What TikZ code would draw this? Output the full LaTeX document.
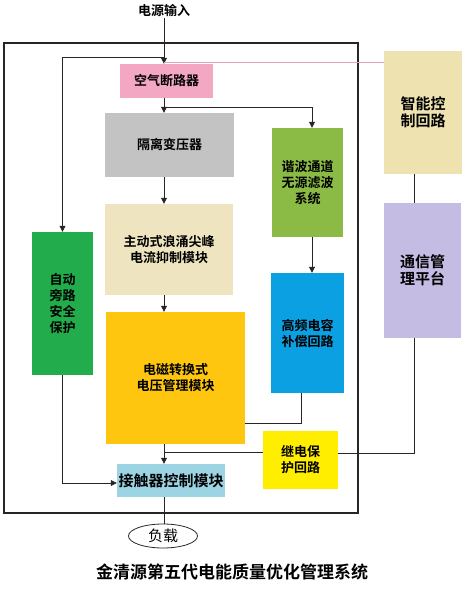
\documentclass[tikz,border=0pt]{standalone}
\usepackage{fontspec}
\setmainfont{Noto Sans CJK SC}[BoldFont={Noto Sans CJK SC Bold}]
\usetikzlibrary{arrows.meta,shapes.geometric}
\definecolor{brkpink}{HTML}{F4A7C3}
\definecolor{linkpink}{HTML}{E6A3B8}
\definecolor{isogray}{HTML}{C3C3C3}
\definecolor{harmgreen}{HTML}{8CBB45}
\definecolor{ctrlkhaki}{HTML}{EEE2B0}
\definecolor{commlilac}{HTML}{C5BCE3}
\definecolor{surgekhaki}{HTML}{EEE5C0}
\definecolor{emorange}{HTML}{FEC60F}
\definecolor{hfblue}{HTML}{0BA0E2}
\definecolor{bypgreen}{HTML}{22AC4C}
\definecolor{relayyellow}{HTML}{FFEE00}
\definecolor{contblue}{HTML}{9CD4E4}
\tikzstyle{box} = [draw=none,inner sep=0pt,align=center,font=\fontsize{13}{16}\selectfont\bfseries]
\tikzstyle{bigbox} = [box,font=\fontsize{15}{17}\selectfont\bfseries]
\tikzstyle{wire} = [draw=black!85,line width=0.8pt]
\tikzstyle{feed} = [wire,-{Triangle[length=6pt,width=6pt]}]

\begin{document}
\begin{tikzpicture}[x=1pt,y=-1pt]
    \useasboundingbox (0,0) rectangle (475,591);
    \draw[line width=1.8pt,black!85] (4,43) rectangle (358,513);

    \node[inner sep=1pt,font=\fontsize{13}{16}\selectfont\bfseries] (in) at (164,11) {电源输入};
    \node[box,fill=brkpink,minimum width=93pt,minimum height=34pt] (brk) at (166.5,81) {空气断路器};
    \node[box,fill=isogray,minimum width=129pt,minimum height=64pt] (iso) at (169.5,145) {隔离变压器};
    \node[box,fill=harmgreen,minimum width=71pt,minimum height=109pt] (harm) at (307.5,182.5) {谐波通道\\无源滤波\\系统};
    \node[bigbox,fill=ctrlkhaki,minimum width=78pt,minimum height=123pt] (ctrl) at (423,112.5) {智能控\\制回路};
    \node[bigbox,fill=commlilac,minimum width=77pt,minimum height=135pt] (comm) at (422.5,270.5) {通信管\\理平台};
    \node[box,fill=surgekhaki,minimum width=128pt,minimum height=91pt] (surge) at (169,249.5) {主动式浪涌尖峰\\电流抑制模块};
    \node[box,fill=emorange,minimum width=139pt,minimum height=132pt] (em) at (175.5,378) {电磁转换式\\电压管理模块};
    \node[box,fill=hfblue,minimum width=73pt,minimum height=120pt] (hf) at (307.5,333) {高频电容\\补偿回路};
    \node[box,fill=bypgreen,minimum width=61pt,minimum height=143pt] (byp) at (62.5,303.5) {自动\\旁路\\安全\\保护};
    \node[box,fill=relayyellow,minimum width=75pt,minimum height=58pt] (relay) at (300.5,460) {继电保\\护回路};
    \node[bigbox,fill=contblue,minimum width=108pt,minimum height=33pt] (cont) at (171,480.5) {接触器控制模块};
    \node[ellipse,draw=black!85,line width=0.8pt,inner sep=0pt,minimum width=69pt,minimum height=24pt,
          font=\fontsize{15}{17}\selectfont] (load) at (163,536) {负载};
    \node[font=\fontsize{17}{20}\selectfont\bfseries] (title) at (232,572) {金清源第五代电能质量优化管理系统};

    \coordinate (j0) at (164,62);
    \coordinate (j1) at (164,57);
    \coordinate (j2) at (164,107);
    \coordinate (j3) at (301,423);
    \coordinate (j4) at (164,452);
    \coordinate (j5) at (62.5,483);
    \coordinate (j6) at (414,453);
    \coordinate (hx) at (312,0);

    \draw[feed] (in) -- (in |- brk.north);
    \draw[feed] (j1) -| (byp.north);
    \draw[wire,draw=linkpink] (j0) -- (j0 -| ctrl.west);
    \draw[feed] (j2 |- brk.south) -- (j2 |- iso.north);
    \draw[feed] (j2) -| (hx |- harm.north);
    \draw[feed] (j2 |- iso.south) -- (j2 |- surge.north);
    \draw[feed] (j2 |- surge.south) -- (j2 |- em.north);
    \draw[feed] (hx |- harm.south) -- (hx |- hf.north);
    \draw[wire] (j3 |- hf.south) -- (j3) -- (j3 -| em.east);
    \draw[feed] (j2 |- em.south) -- (j2 |- cont.north);
    \draw[wire] (relay.west |- j4) -- (j4);
    \draw[feed] (byp.south) -- (j5) -- (j5 -| cont.west);
    \draw[wire] (j6 |- ctrl.south) -- (j6 |- comm.north);
    \draw[wire] (j6 |- comm.south) -- (j6) -- (j6 -| relay.east);
    \draw[wire] (j2 |- cont.south) -- (j2 |- load.north);

\end{tikzpicture}
\end{document}
